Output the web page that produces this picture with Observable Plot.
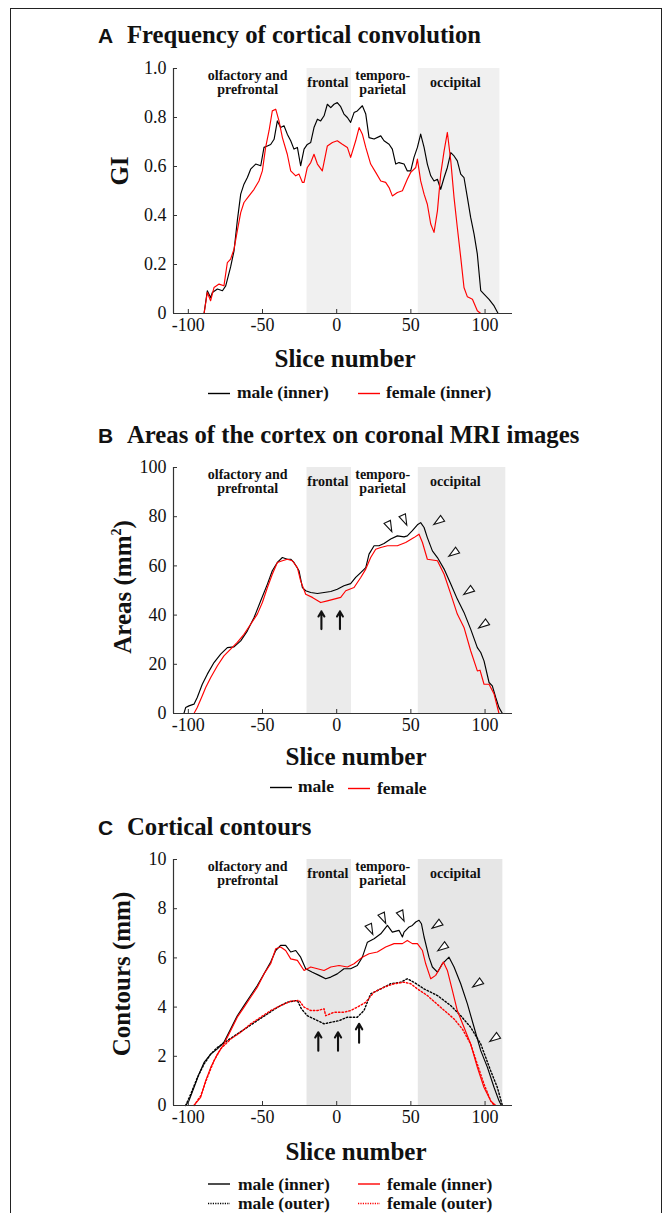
<!DOCTYPE html>
<html><head><meta charset="utf-8">
<script src="https://cdn.jsdelivr.net/npm/d3@7"></script>
<script src="https://cdn.jsdelivr.net/npm/@observablehq/plot@0.6"></script>
<style>
html,body{margin:0;padding:0;background:#fff;}
body{width:666px;height:1213px;overflow:hidden;position:relative;font-family:"Liberation Serif","Times New Roman",serif;}
#frame{position:absolute;left:10px;top:8px;width:652px;height:1400px;border:1.5px solid #222;box-sizing:border-box;}
.panel{position:absolute;left:0;}
.panel svg text, #overlay text.serif{font-family:"Liberation Serif","Times New Roman",serif !important;}
#overlay{position:absolute;left:0;top:0;}
</style>
</head><body>
<div id="frame"></div>
<div id="pA" class="panel" style="top:50px"></div>
<div id="pB" class="panel" style="top:450px"></div>
<div id="pC" class="panel" style="top:840px"></div>
<svg id="overlay" width="666" height="1213"></svg>
<script>
// ---------- data ----------
const xTicks = [-100, -50, 0, 50, 100];
const regionNames = ["olfactory and\nprefrontal", "frontal", "temporo-\nparietal", "occipital"];
const regionX = [-60, -6, 31, 80];

// Panel A: gyrification index (GI)
const giTicks = [0, 0.2, 0.4, 0.6, 0.8, 1.0];
const bandsA = [{x1: -20, x2: 10}, {x1: 55, x2: 110}];
const giMale = [[-89.4,0],[-87.2,0.093],[-85,0.065],[-83.8,0.086],[-80.4,0.1],[-77,0.093],[-74.8,0.113],[-71.5,0.19],[-69.2,0.256],[-67,0.378],[-64.7,0.487],[-62.5,0.528],[-60.2,0.555],[-58,0.589],[-54.6,0.61],[-51.2,0.603],[-49,0.678],[-46.7,0.684],[-44.5,0.69],[-42.2,0.711],[-40,0.786],[-37.8,0.759],[-35.5,0.766],[-33.3,0.732],[-31,0.705],[-28.8,0.671],[-26.5,0.678],[-24.3,0.603],[-22,0.671],[-19.8,0.69],[-17.5,0.698],[-15.3,0.759],[-13,0.793],[-10.8,0.786],[-8.5,0.807],[-6.3,0.854],[-4,0.84],[-1.8,0.854],[0.4,0.861],[2.7,0.844],[4.9,0.814],[7.2,0.8],[9.4,0.78],[11.7,0.82],[13.9,0.827],[17.3,0.848],[19.6,0.814],[21.8,0.718],[25.2,0.712],[29.7,0.725],[31.9,0.705],[35.3,0.691],[37.5,0.671],[39.8,0.61],[42,0.616],[45.4,0.61],[47.6,0.582],[49.9,0.582],[52.1,0.637],[54.4,0.678],[56.6,0.732],[58.9,0.678],[61.1,0.61],[63.4,0.562],[65.6,0.541],[67.9,0.548],[70.1,0.507],[72.4,0.555],[74.6,0.596],[76.9,0.657],[79.1,0.643],[81.3,0.623],[83.6,0.569],[85.8,0.555],[88.1,0.473],[90.3,0.392],[92.6,0.324],[94.8,0.242],[97.1,0.093],[99.3,0.079],[102.7,0.058],[106.1,0.031],[108.8,0]];
const giFemale = [[-93.9,0],[-89.4,0],[-87.2,0.086],[-85,0.052],[-82.7,0.106],[-79.3,0.12],[-76,0.113],[-73.7,0.208],[-71.5,0.222],[-69.2,0.263],[-67,0.337],[-64.7,0.412],[-62.5,0.453],[-59.1,0.48],[-55.7,0.507],[-52.4,0.541],[-50.1,0.582],[-47.9,0.678],[-45.6,0.746],[-43.4,0.827],[-41.1,0.834],[-38.9,0.786],[-36.6,0.718],[-33.3,0.65],[-31,0.582],[-27.6,0.562],[-25.4,0.569],[-23.1,0.535],[-22,0.535],[-19.8,0.596],[-17.5,0.616],[-15.3,0.65],[-13,0.61],[-9.7,0.582],[-6.3,0.684],[-2.9,0.698],[0.4,0.705],[3.8,0.691],[7.2,0.678],[9.4,0.637],[12.8,0.705],[15.1,0.759],[17.3,0.732],[19.6,0.678],[22.9,0.61],[26.3,0.576],[29.7,0.541],[33,0.535],[35.3,0.514],[37.5,0.48],[40.9,0.494],[44.3,0.501],[47.6,0.548],[49.9,0.576],[53.3,0.596],[54.4,0.63],[56.6,0.541],[58.9,0.487],[61.1,0.446],[63.4,0.365],[65.6,0.331],[67.9,0.419],[70.1,0.569],[72.4,0.664],[74.6,0.739],[76.9,0.623],[79.1,0.473],[81.3,0.351],[83.6,0.229],[85.8,0.106],[88.1,0.068],[91.5,0.058],[94.8,0.011],[97.1,0],[109.4,0]];

// Panel B: areas (mm2)
const areaTicks = [0, 20, 40, 60, 80, 100];
const bandsB = [{x1: -20, x2: 10}, {x1: 55, x2: 114}];
const areaMale = [[-103,0],[-101.8,2.4],[-99.6,3.1],[-96.2,3.8],[-94,6.5],[-90.6,11.9],[-87.2,16],[-82.7,20.7],[-78.2,24.1],[-73.7,26.8],[-69.2,27.1],[-64.7,29.5],[-60.2,33.6],[-55.7,39],[-51.2,45.8],[-46.7,52.6],[-43.4,58],[-40,61.4],[-36.6,63.4],[-33.3,62.7],[-31,62.7],[-28.8,61.4],[-25.4,58],[-23.1,51.2],[-20.9,49.9],[-17.5,49.2],[-13,48.8],[-8.5,49.2],[-4,49.6],[0.4,50.5],[4.9,51.9],[9.4,52.8],[12.8,55.3],[16.2,57.3],[19.6,59.3],[21.8,64.8],[25.2,68.2],[28.5,68.2],[31.9,69.1],[36.4,70.9],[40.9,72.2],[45.4,71.8],[47.6,72.2],[51,74.3],[54.4,76.7],[56.6,77.6],[58.9,75.6],[61.1,71.5],[64.5,66.1],[67.9,63.4],[72.4,58.7],[76.9,52.6],[81.3,46.5],[85.8,41.1],[90.3,34.3],[94.8,26.8],[97.1,24.8],[99.3,21.4],[102.7,12.6],[104.9,11.2],[107.2,6.5],[109.4,2.4],[111.7,0]];
const areaFemale = [[-96.2,0],[-94,2.4],[-90.6,7.2],[-88.3,10.6],[-84.9,14.6],[-80.4,19.4],[-76,23.4],[-71.5,26.2],[-67,28.9],[-62.5,32.2],[-58,36.3],[-53.5,40.4],[-50.1,45.1],[-46.7,51.2],[-43.4,56.6],[-40,61.4],[-36.6,62.1],[-33.3,62.7],[-29.9,62.1],[-26.5,59.3],[-24.3,53.9],[-20.9,48.5],[-16.4,47.2],[-10.8,45.1],[-6.3,45.8],[-1.8,46.5],[2.7,47.2],[6.1,49.9],[11.7,51.2],[16.2,55.3],[19.6,58.7],[22.9,63.4],[26.3,66.8],[29.7,67.5],[34.2,68.2],[40.9,68.2],[46.5,69.5],[52.1,71.5],[55.5,72.9],[57.8,69.5],[61.1,62.7],[67.9,62.1],[72.4,56.6],[76.9,48.5],[81.3,40.4],[85.8,35],[90.3,25.5],[94.8,17.3],[96.6,17.6],[99.3,11.9],[102.7,11.9],[106.1,7.9],[109.4,0]];
const areaTriangles = [[35.3,76.3],[45.4,79],[69,78.3],[79.1,65.4],[89.2,49.9],[99.3,36.3]];
const areaArrows = [[-10.3,34.3,41.5],[2.2,34.3,41.5]];

// Panel C: contours (mm)
const contourTicks = [0, 2, 4, 6, 8, 10];
const bandsC = [{x1: -20, x2: 10}, {x1: 55, x2: 112}];
const contourMaleInner = [[-101.8,0],[-99.6,0.19],[-96.2,0.73],[-92.8,1.28],[-89.4,1.75],[-84.9,2.09],[-80.4,2.3],[-76,2.57],[-71.5,3.11],[-67,3.65],[-62.5,4.06],[-58,4.47],[-53.5,4.88],[-49,5.35],[-44.5,5.83],[-41.1,6.3],[-37.8,6.51],[-34.4,6.51],[-31,6.24],[-27.6,6.3],[-24.3,6.03],[-20.9,5.56],[-16.4,5.42],[-11.9,5.29],[-7.4,5.15],[-4,5.22],[0.4,5.35],[4.9,5.56],[9.4,5.56],[13.9,5.69],[17.3,6.03],[20.7,6.64],[25.2,6.78],[29.7,6.98],[34.2,7.32],[37.5,7.05],[42,7.12],[44.3,6.85],[45.4,7.05],[48.8,7.26],[51,7.32],[53.3,7.46],[55.5,7.53],[57.1,7.39],[58.9,6.85],[62.2,6.03],[64.5,5.63],[67.9,5.42],[71.2,5.76],[75.7,6.03],[79.1,5.63],[83.6,4.95],[88.1,4.13],[92.6,3.18],[97.1,2.23],[101.6,1.55],[106.1,0.73],[109.4,0.19],[111,0]];
const contourFemaleInner = [[-96.2,0],[-91.7,0.33],[-88.3,1.01],[-84.9,1.55],[-80.4,2.09],[-76,2.5],[-71.5,3.04],[-67,3.59],[-62.5,3.99],[-58,4.4],[-53.5,4.81],[-49,5.35],[-44.5,5.76],[-41.1,6.37],[-37.8,6.44],[-34.4,6.3],[-31,5.96],[-26.5,5.9],[-22,5.49],[-17.5,5.63],[-13,5.56],[-8.5,5.49],[-4,5.63],[1.6,5.69],[7.2,5.63],[11.7,5.76],[17.3,6.03],[21.8,6.17],[27.4,6.24],[33,6.44],[38.7,6.58],[44.3,6.58],[47.6,6.71],[51,6.58],[54.4,6.58],[57.8,6.3],[60,5.76],[63.4,5.15],[66.7,5.29],[70.1,5.63],[71.9,5.83],[74.6,5.49],[78,4.67],[81.3,3.86],[85.8,3.18],[90.3,2.5],[94.8,1.55],[99.3,0.73],[103.8,0.19],[107.2,0]];
const contourMaleOuter = [[-101.8,0],[-98.4,0.46],[-93.9,1.14],[-89.4,1.68],[-84.9,2.09],[-80.4,2.36],[-73.7,2.64],[-67,2.91],[-60.2,3.18],[-53.5,3.45],[-46.7,3.72],[-40,3.99],[-33.3,4.2],[-26.5,4.27],[-23.8,3.93],[-19.8,3.65],[-15.3,3.52],[-8.5,3.32],[-4,3.38],[1.6,3.45],[7.2,3.59],[13.9,3.59],[18.4,3.86],[22.9,4.54],[29.7,4.74],[36.4,4.95],[43.1,5.01],[47.6,5.15],[52.1,5.01],[58.9,4.74],[67.9,4.47],[76.9,4.06],[83.6,3.65],[90.3,3.18],[97.1,2.5],[103.8,1.41],[108.3,0.73],[111.7,0]];
const contourFemaleOuter = [[-96.2,0],[-91.7,0.39],[-87.2,1.14],[-82.7,1.82],[-78.2,2.3],[-71.5,2.7],[-64.7,2.98],[-58,3.32],[-51.2,3.59],[-44.5,3.86],[-37.8,4.06],[-31,4.24],[-25.4,4.27],[-22,4.0],[-17.5,3.86],[-13,3.86],[-8.5,3.93],[-7.4,3.65],[-1.8,3.79],[4.9,3.79],[9.4,3.86],[13.9,4.0],[19.6,4.2],[25.2,4.61],[32,4.81],[38.7,4.95],[45.4,5.01],[49.9,4.95],[54.4,4.74],[61.1,4.47],[70.1,3.99],[79.1,3.52],[84.7,3.11],[90.3,2.5],[94.8,1.68],[99.3,0.87],[103.8,0.19],[106.1,0]];
const contourTriangles = [[22.5,7.19],[31.2,7.64],[43.6,7.73],[67.9,7.36],[71.7,6.44],[95.3,4.97],[106.7,2.75]];
const contourArrows = [[-12.4,2.23,2.98],[0.9,2.23,2.98],[15.1,2.55,3.32]];

// ---------- drawing ----------
const xDomain = [-110, 118.5];
const serif = "Liberation Serif, Times New Roman, serif";

// narrow isosceles arrowhead symbol, pointing up before rotation
const arrowhead = {
  draw(context, size) {
    const r = Math.sqrt(size / Math.PI);
    context.moveTo(0, -1.2 * r);
    context.lineTo(0.65 * r, 0.8 * r);
    context.lineTo(-0.65 * r, 0.8 * r);
    context.closePath();
  }
};

function panel({yDomain, yTicks, yFmt, bands, shade, series, triangles = [], arrows = [], marginTop, marginBottom, labelDy}) {
  const marks = [
    Plot.rect(bands, {x1: "x1", x2: "x2", y1: yDomain[0], y2: yDomain[1], fill: shade}),
    Plot.text(regionNames, {x: (d, i) => regionX[i], text: d => d, frameAnchor: "top", dy: labelDy, lineAnchor: "middle",
      fontSize: 14, fontWeight: "bold", fontFamily: serif, lineHeight: 1.02, fill: "#111"}),
  ];
  for (const s of series) {
    marks.push(Plot.line(s.data, {x: d => d[0], y: d => d[1], stroke: s.color, strokeWidth: s.dash ? 1.4 : 1.15, strokeDasharray: s.dash || null}));
  }
  if (triangles.length) marks.push(Plot.dot(triangles, {x: d => d[0], y: d => d[1], symbol: arrowhead, r: 5.4,
    rotate: d => d[0] < 50 ? 155 : 235, fill: "white", stroke: "#111", strokeWidth: 1.1}));
  if (arrows.length) marks.push(Plot.arrow(arrows, {x1: d => d[0], x2: d => d[0], y1: d => d[1], y2: d => d[2],
    stroke: "#111", strokeWidth: 2.1, headLength: 8, headAngle: 60}));
  marks.push(
    Plot.ruleY([yDomain[0]], {stroke: "#333", strokeWidth: 1.2}),
    Plot.ruleX([xDomain[0]], {stroke: "#333", strokeWidth: 1.2}),
    Plot.axisX({ticks: xTicks, tickSize: 4, dy: -4, tickFormat: () => "", stroke: "#333"}),
    Plot.axisX({ticks: xTicks, tickSize: 0, tickPadding: 5, tickFormat: d => String(d), fontSize: 18, fontFamily: serif, fill: "#111"}),
    Plot.axisY({ticks: yTicks, tickSize: 4, dx: 4, tickFormat: () => "", stroke: "#333"}),
    Plot.axisY({ticks: yTicks, tickSize: 0, tickPadding: 7, tickFormat: yFmt, fontSize: 18, fontFamily: serif, fill: "#111"})
  );
  return Plot.plot({
    width: 666, height: 290,
    marginLeft: 173, marginRight: 154, marginTop, marginBottom,
    x: {domain: xDomain, label: null},
    y: {domain: yDomain, label: null},
    style: {background: "transparent", fontFamily: serif, overflow: "visible"},
    marks
  });
}

document.getElementById("pA").appendChild(panel({
  yDomain: [0, 1], yTicks: giTicks, yFmt: d => d === 0 ? "0" : d.toFixed(1),
  bands: bandsA, shade: "#f0f0f0", marginTop: 18, marginBottom: 27, labelDy: 14,
  series: [{data: giMale, color: "#000"}, {data: giFemale, color: "#ff0000"}]
}));
document.getElementById("pB").appendChild(panel({
  yDomain: [0, 100], yTicks: areaTicks, yFmt: d => String(d),
  bands: bandsB, shade: "#ebebeb", marginTop: 17, marginBottom: 27, labelDy: 14,
  series: [{data: areaMale, color: "#000"}, {data: areaFemale, color: "#ff0000"}],
  triangles: areaTriangles, arrows: areaArrows
}));
document.getElementById("pC").appendChild(panel({
  yDomain: [0, 10], yTicks: contourTicks, yFmt: d => String(d),
  bands: bandsC, shade: "#e6e6e6", marginTop: 19, marginBottom: 25, labelDy: 14,
  series: [{data: contourMaleOuter, color: "#000", dash: "1.5,2"}, {data: contourFemaleOuter, color: "#ff0000", dash: "1.5,2"},
           {data: contourMaleInner, color: "#000"}, {data: contourFemaleInner, color: "#ff0000"}],
  triangles: contourTriangles, arrows: contourArrows
}));

// ---------- text overlay: titles, axis titles, legends ----------
const ov = d3.select("#overlay");
function txt(x, y, s, o = {}) {
  const t = ov.append("text").attr("x", x).attr("y", y).text(s)
    .attr("font-family", o.family || serif).attr("font-size", o.size || 18)
    .attr("font-weight", o.weight || "bold").attr("fill", o.fill || "#111")
    .attr("text-anchor", o.anchor || "start");
  if (!o.family) t.attr("class", "serif");
  if (o.rotate) t.attr("transform", `rotate(-90 ${x} ${y})`);
  return t;
}
const titles = [["A", "Frequency of cortical convolution", 42.5], ["B", "Areas of the cortex on coronal MRI images", 442.5], ["C", "Cortical contours", 835]];
for (const [letter, title, y] of titles) {
  txt(98, y, letter, {family: "Liberation Sans, Arial, sans-serif", size: 21});
  txt(127, y, title, {size: 24.7});
}
// y-axis titles (rotated)
txt(128, 171, "GI", {size: 25, anchor: "middle", rotate: true});
const ar = txt(131, 587, "Areas (mm", {size: 25, anchor: "middle", rotate: true});
ar.append("tspan").attr("font-size", 14).attr("dy", -10).text("2");
ar.append("tspan").attr("dy", 10).text(")");
txt(130, 974, "Contours (mm)", {size: 25, anchor: "middle", rotate: true});
// x-axis titles
txt(345, 367, "Slice number", {size: 25, anchor: "middle"});
txt(356, 765, "Slice number", {size: 25, anchor: "middle"});
txt(356, 1160, "Slice number", {size: 25, anchor: "middle"});
// legends
function legendItem(x1, x2, ly, tx, ty, label, color, dash) {
  ov.append("line").attr("x1", x1).attr("x2", x2).attr("y1", ly).attr("y2", ly)
    .attr("stroke", color).attr("stroke-width", dash ? 1.3 : 1.4).attr("stroke-dasharray", dash || null);
  txt(tx, ty, label, {size: 17.5});
}
legendItem(208, 230, 393.5, 237, 398, "male (inner)", "#000");
legendItem(358, 380, 393.5, 386, 398, "female (inner)", "#ff0000");
legendItem(270, 292, 787.5, 298, 792, "male", "#000");
legendItem(348, 370, 788.5, 377, 793.5, "female", "#ff0000");
legendItem(208, 230, 1184, 238, 1189.5, "male (inner)", "#000");
legendItem(358, 380, 1184, 387, 1189.5, "female (inner)", "#ff0000");
legendItem(208, 230, 1203.5, 238, 1208.5, "male (outer)", "#000", "1.2,1.2");
legendItem(358, 380, 1203.5, 387, 1208.5, "female (outer)", "#ff0000", "1.2,1.2");
</script>
</body></html>
